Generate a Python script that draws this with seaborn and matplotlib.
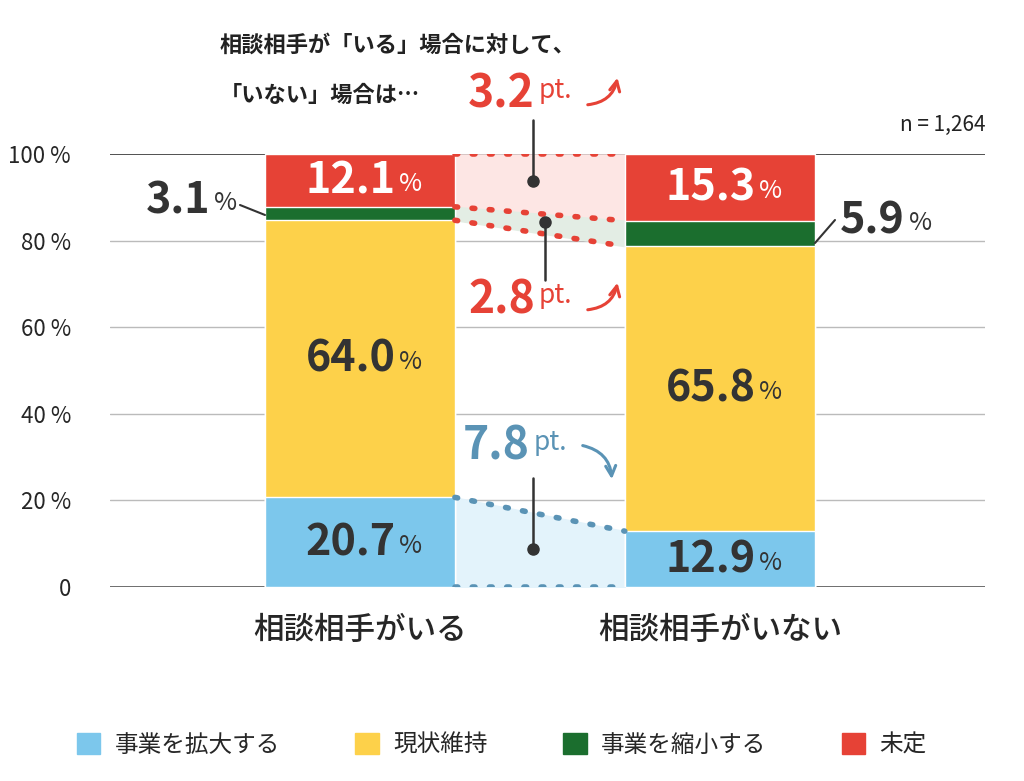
import seaborn as sns
import matplotlib.pyplot as plt
import pandas as pd
from matplotlib.patches import Patch

groups = ['相談相手がいる', '相談相手がいない']
series = ['事業を拡大する', '現状維持', '事業を縮小する', '未定']
expand = [20.7, 12.9]
keep = [64.0, 65.8]
shrink = [3.1, 5.9]
undecided = [12.1, 15.3]
colors = ['#7CC7EC', '#FDD14A', '#1B6E2E', '#E64236']
yticks = [0, 20, 40, 60, 80, 100]
yticklabels = ['0', '20 %', '40 %', '60 %', '80 %', '100 %']

sns.set_style('white')
plt.rcParams['font.family'] = ['Noto Sans CJK JP', 'DejaVu Sans']

fig = plt.figure(figsize=(10.24, 7.81), dpi=100)
ax = fig.add_axes([110/1024, 1-587/781, 875/1024, 433/781])

X0 = -0.694
def px(x, y):
    return X0 + (x - 110) / 360, (587 - y) / 4.33

layers = [expand, keep, shrink, undecided]
cum = []
run = [0, 0]
for l in layers:
    run = [run[i] + l[i] for i in range(2)]
    cum.append(run)
for k in range(3, -1, -1):
    df = pd.DataFrame({'g': groups, 'v': cum[k]})
    sns.barplot(data=df, x='g', y='v', color=colors[k], width=0.528, ax=ax, saturation=1, zorder=2)

for y in [20, 40, 60, 80]:
    ax.axhline(y, color='#bbbbbb', lw=1, zorder=0)
ax.axhline(100, color='#333333', lw=1.2, zorder=0)
ax.axhline(0, color='#555555', lw=1.2, zorder=0)
ax.set_xlim(X0, X0 + 875/360)
ax.set_ylim(0, 100)
sns.despine(ax=ax, left=True, bottom=True)
ax.set_yticks(yticks)
ax.set_yticklabels(yticklabels, fontsize=16)
ax.tick_params(axis='y', length=0, pad=28)
ax.set_xlabel('')
ax.set_ylabel('')
ax.set_xticks([0, 1])
ax.set_xticklabels(groups, fontsize=22, fontweight='medium')
ax.tick_params(axis='x', length=0, pad=20)

# connecting regions between bars
xa, xb = 0.264, 0.736
top = [cum[3][0], cum[3][1]]
red_lo = [cum[2][0], cum[2][1]]
grn_lo = [cum[1][0], cum[1][1]]
blue = [cum[0][0], cum[0][1]]
ax.fill_between([xa, xb], red_lo, top, color='#FDE6E4', zorder=1)
ax.fill_between([xa, xb], grn_lo, red_lo, color='#E3EDE4', zorder=1)
ax.fill_between([xa, xb], [0, 0], blue, color='#E3F3FB', zorder=1)
dot = dict(ls=(0, (0.5, 2.6)), lw=4, dash_capstyle='round', zorder=3)
ax.plot([xa, xb], top, color='#E64236', **dot)
ax.plot([xa, xb], red_lo, color='#E64236', **dot)
ax.plot([xa, xb], grn_lo, color='#E64236', **dot)
ax.plot([xa, xb], blue, color='#5A93B5', **dot)
ax.plot([xa, xb], [0, 0], color='#5A93B5', **dot)

def label(x, y, num, size=31, psize=18, color='#333333'):
    ax.text(x + 0.1, y, num, ha='right', va='center', fontsize=size, fontweight='bold', color=color, zorder=5)
    ax.text(x + 0.11, y - 0.8, '%', ha='left', va='center', fontsize=psize, color=color, zorder=5)

for i in range(2):
    label(i, expand[i] / 2, f'{expand[i]:.1f}')
    label(i, expand[i] + keep[i] / 2, f'{keep[i]:.1f}')
    label(i, cum[2][i] + undecided[i] / 2, f'{undecided[i]:.1f}', color='white')

# side labels for shrink
x, y = px(210, 200)
ax.text(x, y, f'{shrink[0]:.1f}', ha='right', va='center', fontsize=31, fontweight='bold', color='#333333')
ax.text(x + 0.01, y - 0.8, '%', ha='left', va='center', fontsize=18, color='#333333')
ax.plot(*zip(px(240, 205), px(265, 215)), color='#333333', lw=1.5, clip_on=False)
x, y = px(905, 220)
ax.text(x, y, f'{shrink[1]:.1f}', ha='right', va='center', fontsize=31, fontweight='bold', color='#333333')
ax.text(x + 0.01, y - 0.8, '%', ha='left', va='center', fontsize=18, color='#333333')
ax.plot(*zip(px(815, 243), px(835, 220)), color='#333333', lw=1.5, clip_on=False)

# pt. annotations
def pt(xp, yp, num, color):
    x, y = px(xp, yp)
    ax.text(x, y, num, ha='right', va='center', fontsize=32, fontweight='bold', color=color, clip_on=False)
    ax.text(x + 0.01, y + 1, 'pt.', ha='left', va='center', fontsize=19, color=color, clip_on=False)

pt(535, 95, '3.2', '#E64236')
pt(535, 300, '2.8', '#E64236')
pt(530, 447, '7.8', '#5A93B5')
arr = dict(arrowstyle='->', lw=2.2, mutation_scale=18)
ax.annotate('', xy=px(618, 75), xytext=px(585, 105), annotation_clip=False,
            arrowprops=dict(color='#E64236', connectionstyle='arc3,rad=0.4', **arr))
ax.annotate('', xy=px(618, 280), xytext=px(585, 310), annotation_clip=False,
            arrowprops=dict(color='#E64236', connectionstyle='arc3,rad=0.4', **arr))
ax.annotate('', xy=px(612, 482), xytext=px(580, 445), annotation_clip=False,
            arrowprops=dict(color='#5A93B5', connectionstyle='arc3,rad=-0.4', **arr))
for (x1, y1, x2, y2) in [(533, 120, 533, 181), (545, 280, 545, 222), (533, 478, 533, 549)]:
    ax.plot(*zip(px(x1, y1), px(x2, y2)), color='#333333', lw=1.8, clip_on=False, zorder=6)
    ax.plot(*px(x2, y2), 'o', color='#333333', ms=8, clip_on=False, zorder=6)

fig.text(220/1024, 1-45/781, '相談相手が「いる」場合に対して、', fontsize=16, fontweight='bold', va='center', color='#222222')
fig.text(220/1024, 1-95/781, '「いない」場合は…', fontsize=16, fontweight='bold', va='center', color='#222222')
fig.text(985/1024, 1-125/781, 'n = 1,264', fontsize=15, ha='right', va='center', color='#222222')

handles = [Patch(color=c) for c in colors]
fig.legend(handles, series, loc='center', bbox_to_anchor=(0.49, 1-745/781), ncol=4, frameon=False,
           fontsize=17, handlelength=1.0, handleheight=1.0, columnspacing=3.2, handletextpad=0.6)

fig.savefig('out.png', dpi=100)
